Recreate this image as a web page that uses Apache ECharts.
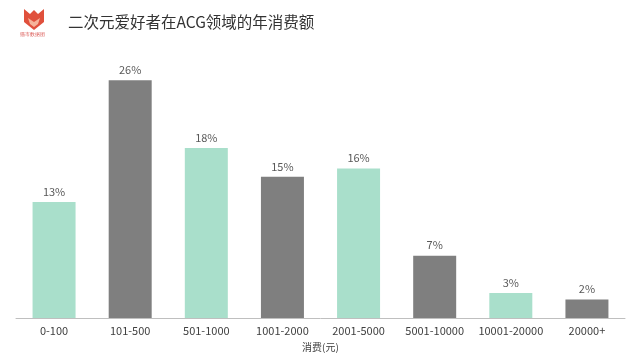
<!DOCTYPE html>
<html><head><meta charset="utf-8">
<script src="https://cdn.jsdelivr.net/npm/echarts@6/dist/echarts.min.js"></script>
<style>html,body{margin:0;padding:0;background:#fff}#c{width:640px;height:363px}</style>
</head><body><div id="c"></div>
<script>
const categories = ['0-100','101-500','501-1000','1001-2000','2001-5000','5001-10000','10001-20000','20000+'];
const values = [12.5, 25.6, 18.3, 15.2, 16.1, 6.7, 2.7, 2.0];
const labels = ['13%','26%','18%','15%','16%','7%','3%','2%'];
const colors = ['#a9dfcb','#7f7f7f'];
const title = '二次元爱好者在ACG领域的年消费额';
const axisName = '消费(元)';

const chart = echarts.init(document.getElementById('c'));
chart.setOption({
  animation:false,
  textStyle:{fontFamily:'"Noto Sans CJK SC", "Noto Sans", sans-serif'},
  title:{text:title,left:63,top:9,textStyle:{fontSize:15.5,fontWeight:'normal',color:'#333'}},
  graphic:[
    {type:'polygon',shape:{points:[[24,9],[30,14],[34,10],[38,14],[44,9],[44,22],[34,30],[24,22]]},style:{fill:'#e0503c'}},
    {type:'polygon',shape:{points:[[28,18],[34,22],[40,18],[38,24],[34,27],[30,24]]},style:{fill:'#f6b39a'}},
    {type:'text',left:20,top:32,style:{text:'猫市数据团',fontSize:5,fill:'#d9534f'}}
  ],
  grid:{left:16,right:15,top:58,bottom:45},
  xAxis:{type:'category',data:categories,
    axisLine:{lineStyle:{color:'#bfbfbf'}},axisTick:{show:false},
    axisLabel:{color:'#404040',fontSize:11,margin:7,interval:0},
    name:axisName,nameLocation:'middle',nameGap:24,nameTextStyle:{color:'#404040',fontSize:10}},
  yAxis:{type:'value',min:0,max:28,show:false,splitLine:{show:false}},
  series:[{type:'bar',data:values,barWidth:43,
    itemStyle:{color:p=>colors[p.dataIndex%2]},
    label:{show:true,position:'top',distance:5,color:'#595959',fontSize:11,formatter:p=>labels[p.dataIndex]}}]
});
</script></body></html>
